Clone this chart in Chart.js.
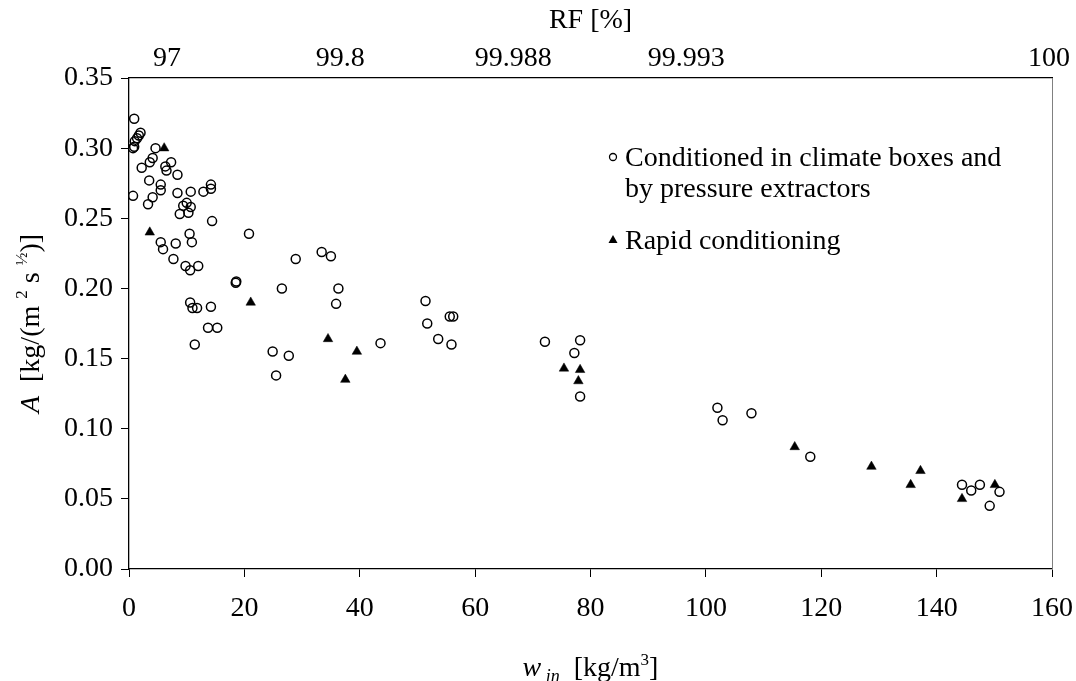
<!DOCTYPE html>
<html>
<head>
<meta charset="utf-8">
<script src="https://cdn.jsdelivr.net/npm/chart.js@4.4.1/dist/chart.umd.min.js"></script>
<style>
  html, body { margin: 0; padding: 0; background: #fff; }
  #wrap { width: 1076px; height: 681px; }
</style>
</head>
<body>
<div id="wrap"><canvas id="chart" width="1076" height="681"></canvas></div>
<script>
// Conditioned in climate boxes and by pressure extractors (open circles)
const climateX = [0.9, 2.0, 1.7, 1.4, 1.0, 0.9, 0.7, 4.6, 4.1, 3.6, 2.2, 7.3, 6.3, 6.5, 8.4,
  3.5, 5.5, 5.5, 8.4, 10.7, 12.9, 14.2, 14.2, 0.7, 4.1, 3.3, 10.0, 9.4, 10.7, 8.8, 10.3, 14.4,
  10.5, 20.8, 5.5, 8.1, 10.9, 5.9, 7.7, 28.9, 33.4, 35.0, 9.8, 12.0, 10.6, 18.5, 18.6, 26.5,
  36.3, 35.9, 10.6, 11.0, 11.8, 14.2, 13.7, 15.3, 11.4, 24.9, 27.7, 25.5, 43.6, 51.4, 51.7,
  55.6, 56.2, 53.6, 55.9, 72.1, 78.2, 77.2, 78.2, 102.0, 102.9, 107.9, 118.1, 144.4, 146.0,
  147.5, 150.9, 149.2];
const climateY = [0.321, 0.311, 0.309, 0.307, 0.305, 0.301, 0.300, 0.300, 0.293, 0.290, 0.286, 0.290, 0.287, 0.284, 0.281,
  0.277, 0.274, 0.270, 0.268, 0.269, 0.269, 0.274, 0.271, 0.266, 0.265, 0.260, 0.261, 0.259, 0.258, 0.253, 0.254, 0.248,
  0.239, 0.239, 0.233, 0.232, 0.233, 0.228, 0.221, 0.221, 0.226, 0.223, 0.216, 0.216, 0.213, 0.204, 0.205, 0.200,
  0.200, 0.189, 0.190, 0.186, 0.186, 0.187, 0.172, 0.172, 0.160, 0.155, 0.152, 0.138, 0.161, 0.191, 0.175,
  0.180, 0.180, 0.164, 0.160, 0.162, 0.163, 0.154, 0.123, 0.115, 0.106, 0.111, 0.080, 0.060, 0.056,
  0.060, 0.055, 0.045];

// Rapid conditioning (filled triangles)
const rapidX = [6.1, 3.6, 21.1, 34.5, 39.5, 37.5, 75.4, 78.2, 77.9, 115.4, 128.7, 137.2, 135.5, 150.1, 144.4];
const rapidY = [0.300, 0.240, 0.190, 0.164, 0.155, 0.135, 0.143, 0.142, 0.134, 0.087, 0.073, 0.070, 0.060, 0.060, 0.050];

// secondary (top) axis: RF [%]
const rfTicks = [6.6, 36.6, 66.6, 96.6, 159.5];
const rfLabels = ['97', '99.8', '99.988', '99.993', '100'];

const seriesLabels = ['Conditioned in climate boxes and', 'by pressure extractors', 'Rapid conditioning'];

const FONT = '"Liberation Serif", "Times New Roman", serif';
const tickFont = { family: FONT, size: 28 };

function toPoints(xs, ys) {
  return xs.map((x, i) => ({ x: x, y: ys[i] }));
}

// labels hanging over the plot edges must not shrink the plot area
function noEdgePadding(axis) {
  axis.paddingLeft = 0;
  axis.paddingRight = 0;
  axis.paddingTop = 0;
  axis.paddingBottom = 0;
}

// draw a run of text pieces (normal / italic / super / sub) centred on cx
function drawRich(ctx, parts, cx, baseY) {
  let total = 0;
  parts.forEach(p => { ctx.font = p.font; total += ctx.measureText(p.t).width; });
  let x = cx - total / 2;
  ctx.textAlign = 'left';
  ctx.textBaseline = 'alphabetic';
  parts.forEach(p => {
    ctx.font = p.font;
    ctx.fillText(p.t, x, baseY + (p.dy || 0));
    x += ctx.measureText(p.t).width;
  });
}

const decorPlugin = {
  id: 'decor',
  afterDraw(chart) {
    const ctx = chart.ctx;
    const area = chart.chartArea;
    const cx = (area.left + area.right) / 2;
    const cy = (area.top + area.bottom) / 2;
    ctx.save();
    ctx.fillStyle = '#000';

    // x title: w_in [kg/m3]
    drawRich(ctx, [
      { t: 'w', font: 'italic 28px ' + FONT },
      { t: ' in', font: 'italic 18px ' + FONT, dy: 6 },
      { t: '  [kg/m', font: '28px ' + FONT },
      { t: '3', font: '17px ' + FONT, dy: -11 },
      { t: ']', font: '28px ' + FONT }
    ], cx, 676);

    // y title: A [kg/(m2 s1/2)]
    ctx.save();
    ctx.translate(39, cy);
    ctx.rotate(-Math.PI / 2);
    drawRich(ctx, [
      { t: 'A', font: 'italic 28px ' + FONT },
      { t: '  [kg/(m ', font: '28px ' + FONT },
      { t: '2', font: '17px ' + FONT, dy: -12 },
      { t: ' s ', font: '28px ' + FONT },
      { t: '½', font: '17px ' + FONT, dy: -12 },
      { t: ')]', font: '28px ' + FONT }
    ], 0, 0);
    ctx.restore();

    // top axis title
    drawRich(ctx, [{ t: 'RF [%]', font: '28px ' + FONT }], cx, 28);

    // legend
    ctx.font = '28px ' + FONT;
    ctx.textAlign = 'left';
    ctx.textBaseline = 'alphabetic';
    ctx.fillText(seriesLabels[0], 625, 166);
    ctx.fillText(seriesLabels[1], 625, 197);
    ctx.fillText(seriesLabels[2], 625, 249);

    ctx.lineWidth = 1.3;
    ctx.strokeStyle = '#000';
    ctx.beginPath();
    ctx.arc(613, 157, 3.5, 0, Math.PI * 2);
    ctx.stroke();

    ctx.beginPath();
    ctx.moveTo(613, 235);
    ctx.lineTo(617.5, 243);
    ctx.lineTo(608.5, 243);
    ctx.closePath();
    ctx.fill();
    ctx.restore();
  }
};

new Chart(document.getElementById('chart'), {
  type: 'scatter',
  data: {
    datasets: [
      {
        label: seriesLabels[0] + ' ' + seriesLabels[1],
        data: toPoints(climateX, climateY),
        pointStyle: 'circle',
        pointRadius: 4.5,
        pointBorderWidth: 1.5,
        borderColor: '#000',
        backgroundColor: 'rgba(0,0,0,0)',
        xAxisID: 'x',
        yAxisID: 'y'
      },
      {
        label: seriesLabels[2],
        data: toPoints(rapidX, rapidY),
        pointStyle: 'triangle',
        pointRadius: 5.5,
        pointBorderWidth: 0.5,
        borderColor: '#000',
        backgroundColor: '#000',
        xAxisID: 'x',
        yAxisID: 'y'
      }
    ]
  },
  options: {
    responsive: false,
    animation: false,
    layout: { padding: 0 },
    plugins: {
      legend: { display: false },
      tooltip: { enabled: false }
    },
    scales: {
      x: {
        type: 'linear',
        position: 'bottom',
        min: 0,
        max: 160,
        ticks: { stepSize: 20, color: '#000', font: tickFont, padding: 15, maxRotation: 0 },
        grid: { drawOnChartArea: false, drawTicks: true, tickLength: 8, color: '#000', lineWidth: 1 },
        border: { color: '#000', width: 1.3 },
        afterFit(axis) { axis.height = 112; noEdgePadding(axis); }
      },
      xTop: {
        type: 'linear',
        position: 'top',
        min: 0,
        max: 160,
        afterBuildTicks(axis) { axis.ticks = rfTicks.map(v => ({ value: v })); },
        ticks: {
          color: '#000', font: tickFont, padding: 3, autoSkip: false, maxRotation: 0,
          callback: (v, i) => rfLabels[i]
        },
        grid: { drawOnChartArea: false, drawTicks: false },
        border: { color: '#000', width: 1.3 },
        afterFit(axis) { axis.height = 78; noEdgePadding(axis); }
      },
      y: {
        type: 'linear',
        position: 'left',
        min: 0,
        max: 0.35,
        ticks: { stepSize: 0.05, color: '#000', font: tickFont, padding: 8, callback: v => v.toFixed(2) },
        grid: { drawOnChartArea: false, drawTicks: true, tickLength: 8, color: '#000', lineWidth: 1 },
        border: { color: '#000', width: 1.3 },
        afterFit(axis) { axis.width = 129; noEdgePadding(axis); }
      },
      yRight: {
        type: 'linear',
        position: 'right',
        min: 0,
        max: 0.35,
        ticks: { display: false },
        grid: { drawOnChartArea: false, drawTicks: false },
        border: { color: '#808080', width: 1 },
        afterFit(axis) { axis.width = 24; noEdgePadding(axis); }
      }
    }
  },
  plugins: [decorPlugin]
});
</script>
</body>
</html>
